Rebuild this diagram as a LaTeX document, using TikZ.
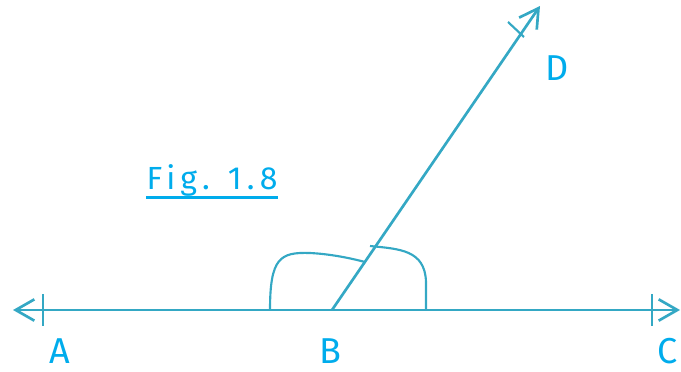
\documentclass[tikz,border=0pt]{standalone}
\usepackage{fontspec}
\setmainfont{Fira Sans}
\usetikzlibrary{arrows.meta,calc}
\definecolor{linea}{RGB}{52,168,196}
\definecolor{letra}{RGB}{0,172,236}
\tikzset{flecha/.tip={Straight Barb[length=14pt,width=16pt,line width=2pt]}}

\begin{document}
\begin{tikzpicture}[x=0.75pt,y=-0.75pt,
recta/.style={draw=linea,line width=2pt},
marca/.style={draw=linea,line width=1.6pt},
arco/.style={draw=linea,line width=1.6pt},
punto/.style={text=letra,font=\fontsize{27}{30}\selectfont,inner sep=0pt},
titulo/.style={text=letra,font=\fontsize{24}{28}\selectfont\addfontfeatures{LetterSpace=16},inner xsep=0pt,inner ysep=1pt}
]
\useasboundingbox (0,0) rectangle (681,371);
% rectas
\coordinate (izq) at (13,310);
\coordinate (der) at (680,310);
\coordinate (B) at (332,310);
\coordinate (fin) at (540,6);
\draw[recta,flecha-flecha] (izq) -- (der);
\draw[recta,-flecha] (B) -- (fin);
% marcas
\coordinate (mA) at (43,310);
\coordinate (mC) at (652,310);
\coordinate (mD) at (517,30);
\draw[marca] ($(mA)+(0,-16)$) -- ($(mA)+(0,16)$);
\draw[marca] ($(mC)+(0,-16)$) -- ($(mC)+(0,16)$);
\draw[marca] ($(mD)+(-9,-8)$) -- ($(mD)+(7,7)$);
% arcos
\draw[arco] (270,310) .. controls (270,258) and (280,252) .. (310,253)
  .. controls (330,254) and (350,258) .. (365,262);
\draw[arco] (370,246) .. controls (400,249) and (425,250) .. (426,282) -- (426,310);
% letras
\node[punto] (labA) at (60,351) {A};
\node[punto] (labB) at (330,351) {B};
\node[punto] (labC) at (668,351) {C};
\node[punto] (labD) at (557,68) {D};
\node[titulo] (fig) at (212,180) {Fig. 1.8};
\draw[letra,line width=1.8pt] (fig.south west) -- (fig.south east);
\end{tikzpicture}
\end{document}
